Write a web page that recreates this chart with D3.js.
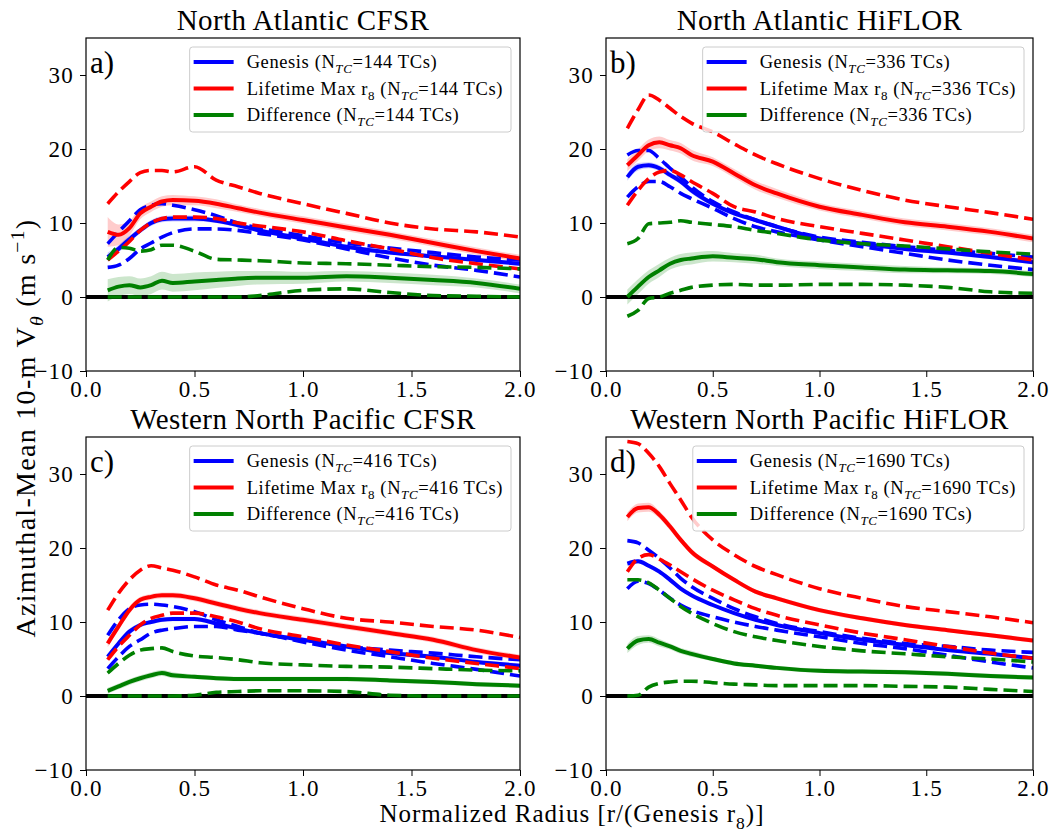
<!DOCTYPE html>
<html>
<head>
<meta charset="utf-8">
<script src="https://cdn.jsdelivr.net/npm/d3@7"></script>
<style>
  body { margin: 0; background: #fff; }
  svg text { font-family: "Liberation Serif", serif; }
</style>
</head>
<body>
<svg id="chart" width="1060" height="832"></svg>
<script>
// radius grid (r / genesis r8)
const radius = [0.1, 0.15, 0.2, 0.25, 0.3, 0.35, 0.4, 0.5, 0.6, 0.7, 0.8, 1.0, 1.2, 1.4, 1.6, 1.8, 2.0];
const xTicks = [0, 0.5, 1.0, 1.5, 2.0];
const yTicks = [-10, 0, 10, 20, 30];
const titles = ["North Atlantic CFSR", "North Atlantic HiFLOR", "Western North Pacific CFSR", "Western North Pacific HiFLOR"];
const panelTags = ["a)", "b)", "c)", "d)"];
const tcCounts = [144, 336, 416, 1690];

// a) North Atlantic CFSR
const aGenMean = [5.4, 6.5, 7.8, 9.0, 10.0, 10.5, 10.6, 10.6, 10.3, 9.7, 9.0, 7.9, 6.8, 6.0, 5.5, 5.0, 4.5];
const aGenHi   = [7.2, 8.8, 10.3, 11.8, 12.4, 12.6, 12.4, 11.8, 11.0, 10.0, 9.3, 8.3, 7.3, 6.6, 6.0, 5.4, 5.0];
const aGenLo   = [4.0, 4.3, 5.2, 6.5, 7.3, 8.1, 8.7, 9.2, 9.2, 9.0, 8.6, 7.7, 6.5, 5.3, 4.3, 3.6, 2.7];
const aGenBand = [0.6, 0.5, 0.5, 0.4, 0.4, 0.4, 0.4, 0.4, 0.3, 0.3, 0.3, 0.3, 0.3, 0.3, 0.3, 0.3, 0.3];
const aMaxMean = [8.8, 8.4, 9.3, 11.3, 12.2, 12.9, 13.1, 13.0, 12.6, 12.0, 11.4, 10.4, 9.4, 8.4, 7.3, 6.2, 5.2];
const aMaxHi   = [12.6, 14.2, 15.6, 16.8, 17.1, 17.1, 16.9, 17.6, 15.8, 14.9, 14.0, 12.6, 11.3, 10.0, 9.2, 8.8, 8.1];
const aMaxLo   = [5.0, 6.2, 7.5, 9.0, 10.0, 10.6, 10.8, 10.8, 10.6, 10.0, 9.6, 8.8, 7.6, 6.5, 5.3, 4.5, 3.8];
const aMaxBand = [2.0, 1.4, 1.0, 0.8, 0.7, 0.7, 0.7, 0.6, 0.6, 0.5, 0.5, 0.5, 0.5, 0.5, 0.5, 0.5, 0.5];
const aDifMean = [0.9, 1.4, 1.6, 1.3, 1.6, 2.2, 1.9, 2.1, 2.3, 2.5, 2.6, 2.6, 2.8, 2.6, 2.3, 1.9, 1.1];
const aDifHi   = [5.0, 6.7, 6.6, 6.2, 6.4, 7.0, 7.0, 6.2, 5.1, 5.0, 4.9, 4.6, 4.5, 4.3, 4.1, 4.0, 3.8];
const aDifLo   = [0, 0, 0, 0, 0, 0, 0, 0, 0, 0, 0.2, 0.9, 1.1, 0.6, 0.2, 0.1, 0];
const aDifBand = [1.5, 1.3, 1.2, 1.2, 1.2, 1.2, 1.2, 1.2, 1.1, 1.0, 0.9, 0.8, 0.7, 0.7, 0.7, 0.6, 0.6];

// b) North Atlantic HiFLOR
const bGenMean = [16.2, 17.6, 17.8, 17.4, 16.5, 15.6, 14.4, 12.6, 11.3, 10.4, 9.5, 7.9, 7.2, 6.5, 6.0, 5.4, 4.7];
const bGenHi   = [19.2, 19.8, 19.8, 18.7, 17.4, 16.2, 14.9, 12.9, 11.5, 10.4, 9.5, 8.1, 7.4, 6.8, 6.3, 5.9, 5.4];
const bGenLo   = [13.5, 14.9, 15.6, 15.6, 14.9, 14.0, 13.3, 12.0, 10.6, 9.5, 8.8, 7.7, 6.8, 5.9, 5.0, 4.3, 3.7];
const bGenBand = [0.5, 0.5, 0.4, 0.4, 0.4, 0.4, 0.4, 0.3, 0.3, 0.3, 0.3, 0.3, 0.3, 0.3, 0.3, 0.3, 0.3];
const bMaxMean = [17.8, 19.2, 20.5, 20.9, 20.5, 20.1, 19.2, 18.3, 16.7, 15.1, 14.0, 12.2, 11.1, 10.1, 9.5, 8.8, 7.9];
const bMaxHi   = [22.8, 25.3, 27.3, 26.6, 25.5, 24.4, 23.5, 22.3, 20.7, 19.2, 18.0, 16.0, 14.4, 13.1, 12.2, 11.4, 10.5];
const bMaxLo   = [12.4, 14.4, 16.0, 16.9, 17.1, 16.5, 15.6, 14.0, 12.2, 11.5, 10.6, 9.5, 8.6, 7.7, 6.8, 5.9, 5.0];
const bMaxBand = [0.8, 0.8, 0.8, 0.8, 0.7, 0.7, 0.7, 0.6, 0.6, 0.6, 0.6, 0.5, 0.5, 0.5, 0.5, 0.5, 0.5];
const bDifMean = [0.0, 1.4, 2.7, 3.6, 4.5, 5.0, 5.2, 5.5, 5.3, 5.1, 4.7, 4.3, 4.0, 3.7, 3.6, 3.5, 3.1];
const bDifHi   = [7.2, 7.9, 9.9, 10.0, 10.1, 10.3, 10.1, 9.8, 9.5, 9.0, 8.6, 7.7, 7.2, 6.9, 6.5, 6.1, 5.8];
const bDifLo   = [-2.6, -1.8, -0.2, 0.0, 0.5, 0.9, 1.3, 1.6, 1.7, 1.6, 1.6, 1.7, 1.7, 1.6, 1.3, 0.7, 0.5];
const bDifBand = [1.0, 1.0, 0.9, 0.9, 0.8, 0.8, 0.8, 0.7, 0.6, 0.6, 0.5, 0.5, 0.5, 0.5, 0.4, 0.4, 0.4];

// c) Western North Pacific CFSR
const cGenMean = [5.3, 7.1, 8.7, 9.6, 10.0, 10.3, 10.4, 10.4, 9.8, 9.1, 8.5, 7.6, 6.7, 5.8, 5.3, 4.6, 4.1];
const cGenHi   = [8.2, 10.3, 11.8, 12.3, 12.4, 12.3, 12.1, 11.4, 10.3, 9.4, 8.5, 7.6, 6.7, 6.2, 5.8, 5.3, 4.9];
const cGenLo   = [3.7, 5.3, 6.7, 7.6, 8.5, 8.9, 9.1, 9.4, 9.4, 8.9, 8.5, 7.3, 6.2, 5.3, 4.4, 3.6, 2.7];
const cGenBand = [0.4, 0.4, 0.4, 0.3, 0.3, 0.3, 0.3, 0.3, 0.3, 0.3, 0.3, 0.3, 0.3, 0.3, 0.3, 0.3, 0.3];
const cMaxMean = [7.1, 9.4, 11.6, 13.0, 13.4, 13.6, 13.6, 13.2, 12.5, 11.8, 11.2, 10.3, 9.4, 8.5, 7.6, 6.2, 5.2];
const cMaxHi   = [11.6, 13.9, 15.7, 17.0, 17.6, 17.3, 17.0, 16.1, 15.0, 14.3, 13.4, 11.8, 10.5, 10.0, 9.4, 8.9, 7.9];
const cMaxLo   = [4.9, 6.7, 8.2, 9.6, 10.5, 10.9, 11.2, 11.2, 10.7, 10.0, 9.1, 8.0, 6.9, 6.0, 5.1, 4.4, 3.7];
const cMaxBand = [0.5, 0.5, 0.5, 0.4, 0.4, 0.4, 0.4, 0.4, 0.4, 0.4, 0.4, 0.4, 0.4, 0.4, 0.4, 0.4, 0.4];
const cDifMean = [0.7, 1.3, 1.9, 2.4, 2.8, 3.1, 2.8, 2.6, 2.4, 2.3, 2.3, 2.3, 2.3, 2.1, 1.9, 1.6, 1.4];
const cDifHi   = [3.1, 4.4, 5.5, 6.2, 6.4, 6.5, 6.0, 5.4, 5.2, 4.9, 4.5, 4.2, 4.0, 3.9, 3.7, 3.5, 3.4];
const cDifLo   = [0, 0, 0, 0, 0, 0, 0, 0.1, 0.5, 0.6, 0.7, 0.7, 0.6, 0.1, 0, 0, 0];
const cDifBand = [0.4, 0.4, 0.4, 0.4, 0.4, 0.4, 0.4, 0.3, 0.3, 0.3, 0.3, 0.3, 0.3, 0.3, 0.3, 0.3, 0.3];

// d) Western North Pacific HiFLOR
const dGenMean = [17.9, 18.2, 17.6, 16.8, 15.7, 14.5, 13.6, 12.3, 11.2, 10.3, 9.6, 8.5, 7.6, 6.9, 6.2, 5.7, 5.1];
const dGenHi   = [21.0, 20.7, 19.7, 18.6, 17.3, 15.9, 14.8, 13.2, 11.8, 10.7, 9.8, 8.7, 7.8, 7.1, 6.7, 6.2, 5.9];
const dGenLo   = [14.5, 15.5, 15.2, 14.3, 13.2, 12.3, 11.6, 10.7, 10.0, 9.4, 8.9, 8.0, 7.1, 6.4, 5.5, 4.6, 3.8];
const dGenBand = [0.3, 0.3, 0.3, 0.3, 0.3, 0.3, 0.2, 0.2, 0.2, 0.2, 0.2, 0.2, 0.2, 0.2, 0.2, 0.2, 0.2];
const dMaxMean = [24.2, 25.4, 25.5, 24.5, 22.9, 21.1, 19.5, 17.5, 15.7, 14.1, 13.2, 11.6, 10.5, 9.6, 8.9, 8.2, 7.5];
const dMaxHi   = [34.4, 34.1, 32.8, 31.0, 28.7, 26.5, 24.2, 21.1, 19.1, 17.5, 16.4, 14.5, 13.2, 12.1, 11.4, 10.7, 9.9];
const dMaxLo   = [16.8, 18.6, 19.1, 18.5, 17.7, 16.8, 15.9, 14.3, 13.0, 11.8, 10.9, 9.6, 8.5, 7.6, 6.7, 5.8, 5.1];
const dMaxBand = [0.6, 0.6, 0.6, 0.5, 0.5, 0.4, 0.4, 0.3, 0.3, 0.3, 0.3, 0.3, 0.3, 0.3, 0.3, 0.3, 0.3];
const dDifMean = [6.4, 7.5, 7.7, 7.2, 6.7, 6.1, 5.7, 5.0, 4.4, 4.1, 3.8, 3.4, 3.3, 3.2, 3.0, 2.7, 2.5];
const dDifHi   = [15.7, 15.7, 15.3, 14.3, 13.2, 12.1, 11.2, 9.8, 8.7, 8.0, 7.5, 6.7, 6.1, 5.7, 5.3, 5.0, 4.6];
const dDifLo   = [0, 0.1, 1.2, 1.7, 1.9, 2.0, 2.0, 1.8, 1.6, 1.5, 1.4, 1.4, 1.4, 1.3, 1.2, 0.9, 0.6];
const dDifBand = [0.6, 0.6, 0.5, 0.5, 0.4, 0.4, 0.4, 0.3, 0.3, 0.3, 0.3, 0.3, 0.3, 0.3, 0.3, 0.3, 0.3];

const colors = { gen: "#0000ff", max: "#ff0000", dif: "#008000" };
const serif = "'Liberation Serif', serif";

// panel frames in pixels
const frames = [
  { left: 86, right: 520, top: 38, bottom: 371 },
  { left: 606, right: 1033, top: 38, bottom: 371 },
  { left: 86, right: 520, top: 437, bottom: 770 },
  { left: 606, right: 1033, top: 437, bottom: 770 }
];

const panels = [
  { gen: [aGenMean, aGenLo, aGenHi, aGenBand], max: [aMaxMean, aMaxLo, aMaxHi, aMaxBand], dif: [aDifMean, aDifLo, aDifHi, aDifBand] },
  { gen: [bGenMean, bGenLo, bGenHi, bGenBand], max: [bMaxMean, bMaxLo, bMaxHi, bMaxBand], dif: [bDifMean, bDifLo, bDifHi, bDifBand] },
  { gen: [cGenMean, cGenLo, cGenHi, cGenBand], max: [cMaxMean, cMaxLo, cMaxHi, cMaxBand], dif: [cDifMean, cDifLo, cDifHi, cDifBand] },
  { gen: [dGenMean, dGenLo, dGenHi, dGenBand], max: [dMaxMean, dMaxLo, dMaxHi, dMaxBand], dif: [dDifMean, dDifLo, dDifHi, dDifBand] }
];

const svg = d3.select("#chart");

// text built from parts: {t, sub, sup, it}
function richText(sel, parts, size) {
  const small = size * 0.7;
  let shift = 0;
  parts.forEach(p => {
    const target = p.sub ? size * 0.28 : p.sup ? -size * 0.38 : 0;
    const ts = sel.append("tspan")
      .attr("dy", target - shift)
      .style("font-size", (p.sub || p.sup ? small : size) + "px")
      .text(p.t);
    if (p.it) ts.style("font-style", "italic");
    shift = target;
  });
}

panels.forEach((p, i) => {
  const f = frames[i];
  const x = d3.scaleLinear().domain([0, 2]).range([f.left, f.right]);
  const y = d3.scaleLinear().domain([-10, 35]).range([f.bottom, f.top]);
  const g = svg.append("g");

  g.append("clipPath").attr("id", "clip" + i)
    .append("rect").attr("x", f.left).attr("y", f.top)
    .attr("width", f.right - f.left).attr("height", f.bottom - f.top);
  const plot = g.append("g").attr("clip-path", `url(#clip${i})`);

  const line = d3.line().x((d, k) => x(radius[k])).y(d => y(d)).curve(d3.curveMonotoneX);
  const area = band => d3.area()
    .x((d, k) => x(radius[k]))
    .y0((d, k) => y(d - band[k]))
    .y1((d, k) => y(d + band[k]))
    .curve(d3.curveMonotoneX);

  // shading around the means
  ["gen", "max", "dif"].forEach(key => {
    const [mean, , , band] = p[key];
    plot.append("path").datum(mean)
      .attr("d", area(band))
      .attr("fill", colors[key]).attr("fill-opacity", 0.2);
  });

  // zero line
  plot.append("line")
    .attr("x1", f.left).attr("x2", f.right)
    .attr("y1", y(0)).attr("y2", y(0))
    .attr("stroke", "#000").attr("stroke-width", 4);

  ["gen", "max", "dif"].forEach(key => {
    const [mean, lo, hi] = p[key];
    plot.append("path").datum(mean).attr("d", line)
      .attr("fill", "none").attr("stroke", colors[key]).attr("stroke-width", 4);
    [lo, hi].forEach(q => {
      plot.append("path").datum(q).attr("d", line)
        .attr("fill", "none").attr("stroke", colors[key]).attr("stroke-width", 3.6)
        .attr("stroke-dasharray", "14,6");
    });
  });

  // axes
  const xAxis = d3.axisBottom(x).tickValues(xTicks).tickFormat(d3.format(".1f")).tickSize(6).tickPadding(4);
  const yAxis = d3.axisLeft(y).tickValues(yTicks).tickFormat(d => d < 0 ? "\u2212" + Math.abs(d) : d).tickSize(6).tickPadding(6);
  const gx = g.append("g").attr("transform", `translate(0,${f.bottom})`).call(xAxis);
  const gy = g.append("g").attr("transform", `translate(${f.left},0)`).call(yAxis);
  [gx, gy].forEach(a => {
    a.attr("font-family", null).attr("font-size", null);
    a.select(".domain").remove();
    a.selectAll("text").style("font-size", "23px").style("letter-spacing", "1.2px")
      .style("font-family", serif).attr("fill", "#000");
    a.selectAll("line").attr("stroke", "#000");
  });

  g.append("rect")
    .attr("x", f.left).attr("y", f.top)
    .attr("width", f.right - f.left).attr("height", f.bottom - f.top)
    .attr("fill", "none").attr("stroke", "#000").attr("stroke-width", 1.2);

  // title and panel tag
  g.append("text").attr("x", (f.left + f.right) / 2).attr("y", f.top - 8)
    .attr("text-anchor", "middle").style("font-size", "29px").style("letter-spacing", "0.4px").text(titles[i]);
  g.append("text").attr("x", f.left + 4).attr("y", f.top + 35)
    .style("font-size", "31px").text(panelTags[i]);

  // legend
  const n = tcCounts[i];
  const rows = [
    { key: "gen", parts: [{ t: "Genesis (N" }, { t: "TC", sub: true, it: true }, { t: "=" + n + " TCs)" }] },
    { key: "max", parts: [{ t: "Lifetime Max r" }, { t: "8", sub: true }, { t: " (N" }, { t: "TC", sub: true, it: true }, { t: "=" + n + " TCs)" }] },
    { key: "dif", parts: [{ t: "Difference (N" }, { t: "TC", sub: true, it: true }, { t: "=" + n + " TCs)" }] }
  ];
  const leg = g.append("g");
  const box = leg.append("rect");
  const texts = [];
  rows.forEach((r, k) => {
    const ty = f.top + 24 + k * 26.5;
    const t = leg.append("text").attr("x", 0).attr("y", ty + 6).style("letter-spacing", "0.6px");
    richText(t, r.parts, 18.5);
    texts.push(t);
  });
  const maxW = d3.max(texts, t => t.node().getComputedTextLength());
  const boxW = 57 + maxW + 8;
  const bx = f.right - 9 - boxW;
  box.attr("x", bx).attr("y", f.top + 9).attr("width", boxW).attr("height", 85)
    .attr("rx", 3).attr("fill", "#fff").attr("fill-opacity", 0.8)
    .attr("stroke", "#cccccc").attr("stroke-width", 1);
  texts.forEach(t => t.attr("x", bx + 57));
  rows.forEach((r, k) => {
    const ty = f.top + 24 + k * 26.5;
    leg.append("line").attr("x1", bx + 4).attr("x2", bx + 44)
      .attr("y1", ty).attr("y2", ty)
      .attr("stroke", colors[r.key]).attr("stroke-width", 4);
  });
});

// shared axis labels
const ylab = svg.append("text")
  .attr("transform", "translate(35,428) rotate(-90)")
  .attr("text-anchor", "middle").style("letter-spacing", "1.3px");
richText(ylab, [{ t: "Azimuthal-Mean 10-m V" }, { t: "\u03b8", sub: true, it: true }, { t: " (m s" }, { t: "\u22121", sup: true }, { t: ")" }], 28);

const xlab = svg.append("text")
  .attr("x", 572).attr("y", 822)
  .attr("text-anchor", "middle").style("letter-spacing", "1px");
richText(xlab, [{ t: "Normalized Radius [r/(Genesis r" }, { t: "8", sub: true }, { t: ")]" }], 25);
</script>
</body>
</html>
